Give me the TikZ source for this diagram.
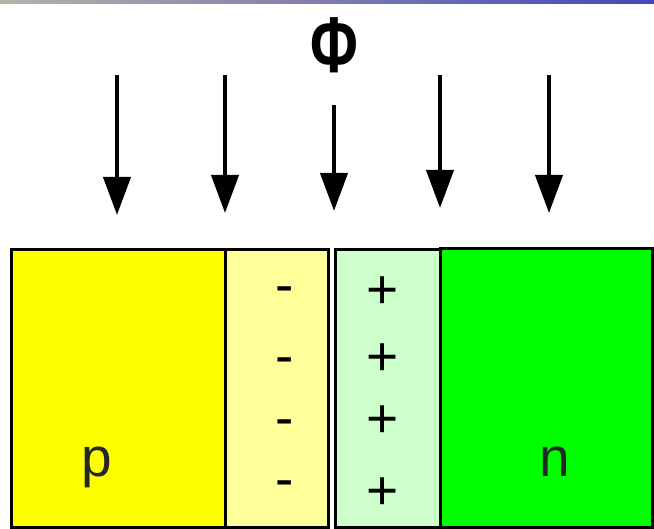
\documentclass[tikz,border=0pt]{standalone}
\usepackage{fontspec}
\setmainfont{Liberation Sans}
\usetikzlibrary{arrows.meta}
\definecolor{pyel}{HTML}{FFFF00}
\definecolor{lyel}{HTML}{FFFF99}
\definecolor{lgrn}{HTML}{CCFFCC}
\definecolor{ngrn}{HTML}{00FF00}
\definecolor{barL}{HTML}{B4B3A8}
\definecolor{barM}{HTML}{B9B9BC}
\definecolor{barR}{HTML}{4646B8}
\begin{document}
\begin{tikzpicture}[x=1pt,y=-1pt,
  region/.style={draw=black,line width=3pt,anchor=north west,inner sep=0pt,outer sep=0pt},
  ray/.style={line width=4pt,-{Triangle[width=27pt,length=38pt]}},
  sign/.style={font=\fontsize{55}{60}\selectfont,anchor=base,inner sep=0pt},
  lbl/.style={font=\fontsize{55}{60}\selectfont,anchor=base,inner sep=0pt,text=black!85}]
\useasboundingbox (0,0) rectangle (654,529);
\fill[white] (0,0) rectangle (654,529);
\shade[left color=barL,middle color=barM,right color=barR] (0,0) rectangle (654,4);
% regions
\node[region,fill=pyel,minimum width=214pt,minimum height=277pt] (preg) at (11,250) {};
\node[region,fill=lyel,minimum width=103pt,minimum height=277pt] (nspace) at (225,250) {};
\node[region,fill=lgrn,minimum width=105pt,minimum height=277pt] (pspace) at (335,250) {};
\node[region,fill=ngrn,minimum width=212pt,minimum height=278pt] (nreg) at (440,249) {};
% labels
\node[lbl] (p) at (97,477) {p};
\node[lbl] (n) at (555,477) {n};
\foreach \y/\k in {289/1,360/2,422/3,483/4}{
  \node[sign] (m\k) at (285,\y+15) {-};
}
\foreach \y/\k in {289/1,356/2,418/3,490/4}{
  \node[sign] (pl\k) at (383,\y+20) {+};
}
% flux
\node[font=\fontsize{66}{70}\selectfont\bfseries,anchor=base,inner sep=0pt] (phi) at (334,73) {\scalebox{0.88}[1.2]{Φ}};
\coordinate (s1) at (117,75);  \coordinate (e1) at (117,215);
\coordinate (s2) at (225,75);  \coordinate (e2) at (225,213);
\coordinate (s3) at (334,105); \coordinate (e3) at (334,211);
\coordinate (s4) at (440,75);  \coordinate (e4) at (440,208);
\coordinate (s5) at (549,75);  \coordinate (e5) at (549,213);
\foreach \k in {1,...,5}{ \draw[ray] (s\k) -- (e\k); }
\end{tikzpicture}
\end{document}
